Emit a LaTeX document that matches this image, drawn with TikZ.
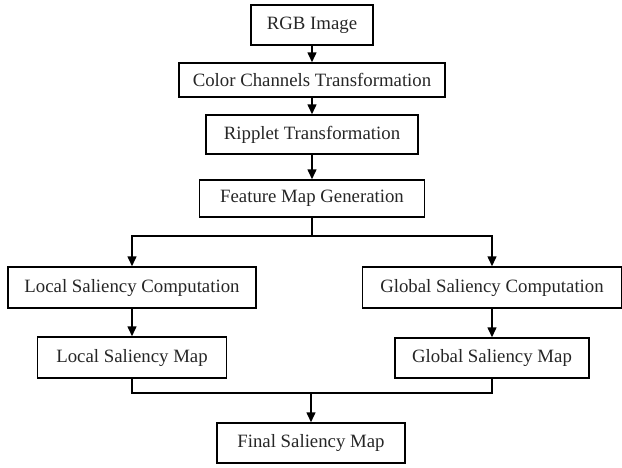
\documentclass[tikz,border=0pt]{standalone}
\usepackage{fontspec}
\setmainfont{Liberation Serif}
\usetikzlibrary{arrows.meta}
\begin{document}
\begin{tikzpicture}[x=1pt,y=-1pt,
  box/.style={draw=black,line width=1.5pt,rectangle,inner sep=0pt,
    font=\fontsize{18.8}{21}\selectfont,text=black!85},
  conn/.style={line width=1.5pt,draw=black},
  arr/.style={conn,-{Triangle[length=10pt,width=9pt]}}]
\useasboundingbox (0,0) rectangle (622,467);
\node[box,minimum width=122pt,minimum height=40pt] (rgb) at (312,25) {RGB Image};
\node[box,minimum width=266pt,minimum height=34pt] (col) at (312,80) {Color Channels Transformation};
\node[box,minimum width=212pt,minimum height=39pt] (rip) at (312,134.5) {Ripplet Transformation};
\node[box,minimum width=225pt,minimum height=37pt] (feat) at (312,198.5) {Feature Map Generation};
\node[box,minimum width=248pt,minimum height=41pt] (lc) at (132,287.5) {Local Saliency Computation};
\node[box,minimum width=259pt,minimum height=41pt] (gc) at (492,287.5) {Global Saliency Computation};
\node[box,minimum width=189pt,minimum height=41pt] (lm) at (132,357.5) {Local Saliency Map};
\node[box,minimum width=194pt,minimum height=40pt] (gm) at (492,358) {Global Saliency Map};
\node[box,minimum width=188pt,minimum height=40pt] (fin) at (311,443) {Final Saliency Map};
\coordinate (split) at (312,236);
\coordinate (join) at (311,393);
\draw[arr] (rgb) -- (col);
\draw[arr] (col) -- (rip);
\draw[arr] (rip) -- (feat);
\draw[conn] (feat.south) -- (split);
\draw[arr] (split) -| (lc.north);
\draw[arr] (split) -| (gc.north);
\draw[arr] (lc) -- (lm);
\draw[arr] (gc) -- (gm);
\draw[conn] (lm.south) |- (join);
\draw[conn] (gm.south) |- (join);
\draw[arr] (join) -- (fin.north);
\end{tikzpicture}
\end{document}
